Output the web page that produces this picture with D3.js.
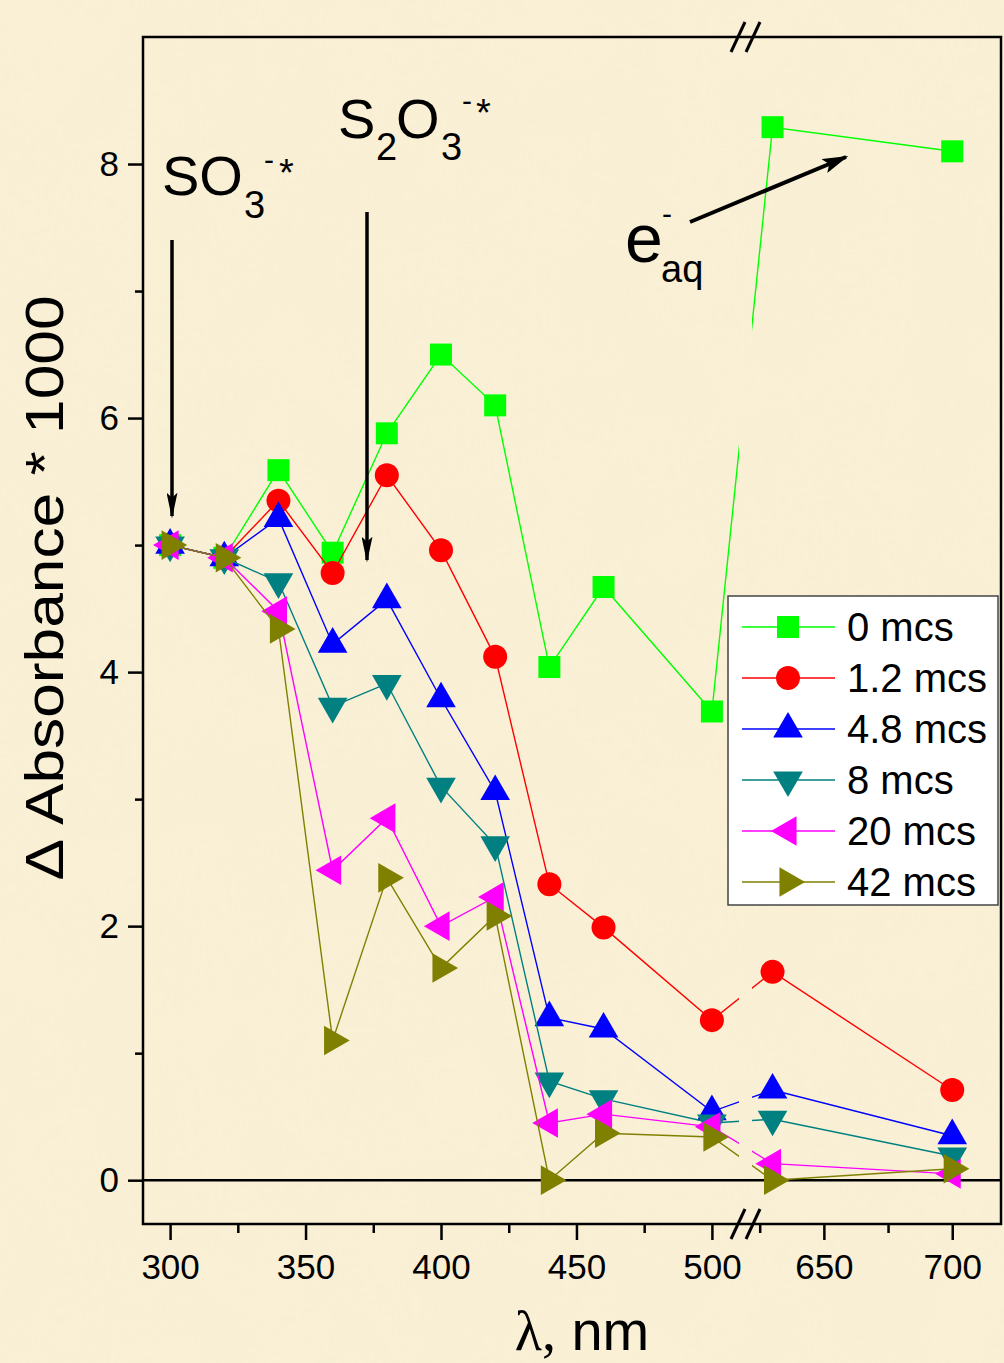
<!DOCTYPE html>
<html>
<head>
<meta charset="utf-8">
<script src="https://cdn.jsdelivr.net/npm/d3@7"></script>
<style>
  body { margin: 0; background: #f9f0d6; }
  svg { display: block; font-family: "Liberation Sans", Arial, sans-serif; }
</style>
</head>
<body>
<div id="chart"></div>
<script>
// Data
const wavelengths = [300, 320, 340, 360, 380, 400, 420, 440, 460, 500, 630, 700];
const seriesNames = ["0 mcs", "1.2 mcs", "4.8 mcs", "8 mcs", "20 mcs", "42 mcs"];
const abs0 = [5.0, 4.9, 5.59, 4.94, 5.88, 6.5, 6.1, 4.04, 4.67, 3.69, 8.29, 8.1];
const abs12 = [5.0, 4.9, 5.35, 4.78, 5.55, 4.96, 4.12, 2.33, 1.99, 1.26, 1.64, 0.71];
const abs48 = [5.0, 4.9, 5.21, 4.22, 4.57, 3.79, 3.06, 1.28, 1.19, 0.54, 0.71, 0.35];
const abs8 = [5.0, 4.9, 4.71, 3.73, 3.91, 3.1, 2.64, 0.78, 0.64, 0.45, 0.48, 0.19];
const abs20 = [5.0, 4.9, 4.48, 2.44, 2.85, 2.0, 2.23, 0.45, 0.52, 0.42, 0.13, 0.05];
const abs42 = [5.0, 4.9, 4.34, 1.1, 2.38, 1.67, 2.08, 0.0, 0.37, 0.34, 0.0, 0.09];
const xTicksLeft = [300, 350, 400, 450, 500];
const xMinorLeft = [325, 375, 425, 475];
const xTicksRight = [650, 700];
const xMinorRight = [625, 675];
const yTicks = [0, 2, 4, 6, 8];
const yMinor = [1, 3, 5, 7];

const allValues = [abs0, abs12, abs48, abs8, abs20, abs42];
const colors = ["#00ff00", "#ff0000", "#0000ff", "#008080", "#ff00ff", "#808000"];
const shapes = ["square", "circle", "up", "down", "left", "right"];

// Dimensions
const width = 1004, height = 1363;
const plot = { left: 143, right: 1001, top: 37, bottom: 1224 };
const gap = { from: 739, to: 752 };

const svg = d3.select("#chart").append("svg")
  .attr("width", width).attr("height", height);

// background with a light parchment texture
const defs = svg.append("defs");
const filt = defs.append("filter").attr("id", "paper").attr("x", 0).attr("y", 0).attr("width", "100%").attr("height", "100%");
filt.append("feTurbulence").attr("type", "fractalNoise").attr("baseFrequency", 0.012).attr("numOctaves", 3).attr("seed", 4);
filt.append("feColorMatrix").attr("type", "matrix")
  .attr("values", "0 0 0 0 0.85  0 0 0 0 0.78  0 0 0 0 0.55  0 0 0 0.35 0");
svg.append("rect").attr("width", width).attr("height", height).attr("fill", "#f9f0d6");
svg.append("rect").attr("width", width).attr("height", height).attr("filter", "url(#paper)").attr("opacity", 0.25);

// Scales (broken x axis)
const xLeft = d3.scaleLinear().domain([290, 510]).range([plot.left, gap.from]);
const xRight = d3.scaleLinear().domain([622, 719]).range([gap.to, plot.right]);
const xPos = (v) => (v <= 510 ? xLeft(v) : xRight(v));
const yScale = d3.scaleLinear().domain([-0.345, 9]).range([plot.bottom, plot.top]);

// clip lines so they vanish in the break
const clip = defs.append("clipPath").attr("id", "breakClip");
clip.append("rect").attr("x", 0).attr("y", 0).attr("width", gap.from).attr("height", height);
clip.append("rect").attr("x", gap.to).attr("y", 0).attr("width", width - gap.to).attr("height", height);

// zero line
svg.append("line")
  .attr("x1", plot.left).attr("x2", plot.right)
  .attr("y1", yScale(0)).attr("y2", yScale(0))
  .attr("stroke", "#000").attr("stroke-width", 2.5);

// Axes
function styleAxis(g) {
  g.select(".domain").remove();
  g.selectAll(".tick line").attr("stroke", "#000").attr("stroke-width", 2.5);
  g.selectAll(".tick text").attr("font-size", 35).attr("fill", "#000")
    .attr("font-family", "Liberation Sans, Arial, sans-serif");
}
svg.append("g").attr("transform", `translate(0,${plot.bottom})`)
  .call(d3.axisBottom(xLeft).tickValues(xTicksLeft).tickSize(16).tickPadding(14))
  .call(styleAxis);
svg.append("g").attr("transform", `translate(0,${plot.bottom})`)
  .call(d3.axisBottom(xLeft).tickValues(xMinorLeft).tickSize(9).tickFormat(""))
  .call(styleAxis);
svg.append("g").attr("transform", `translate(0,${plot.bottom})`)
  .call(d3.axisBottom(xRight).tickValues(xTicksRight).tickSize(16).tickPadding(14))
  .call(styleAxis);
svg.append("g").attr("transform", `translate(0,${plot.bottom})`)
  .call(d3.axisBottom(xRight).tickValues(xMinorRight).tickSize(9).tickFormat(""))
  .call(styleAxis);
svg.append("g").attr("transform", `translate(${plot.left},0)`)
  .call(d3.axisLeft(yScale).tickValues(yTicks).tickSize(15).tickPadding(9))
  .call(styleAxis);
svg.append("g").attr("transform", `translate(${plot.left},0)`)
  .call(d3.axisLeft(yScale).tickValues(yMinor).tickSize(8).tickFormat(""))
  .call(styleAxis);

// frame
svg.append("rect")
  .attr("x", plot.left).attr("y", plot.top)
  .attr("width", plot.right - plot.left).attr("height", plot.bottom - plot.top)
  .attr("fill", "none").attr("stroke", "#000").attr("stroke-width", 2.5);

// break marks on top and bottom
[plot.top, plot.bottom].forEach((yy) => {
  [gap.from - 1, gap.to + 1].forEach((xx) => {
    svg.append("line")
      .attr("x1", xx - 7).attr("y1", yy + 15)
      .attr("x2", xx + 7).attr("y2", yy - 15)
      .attr("stroke", "#000").attr("stroke-width", 3);
  });
});

// Markers
function marker(shape) {
  if (shape === "square") return { path: d3.symbol(d3.symbolSquare, 484)(), rot: 0 };
  if (shape === "circle") return { path: d3.symbol(d3.symbolCircle, 452)(), rot: 0 };
  const tri = d3.symbol(d3.symbolTriangle, 380)();
  const rot = { up: 0, down: 180, left: -90, right: 90 }[shape];
  return { path: tri, rot: rot };
}

const lineGen = d3.line()
  .x((d) => xPos(d.x))
  .y((d) => yScale(d.y));

const series = allValues.map((vals, i) => ({
  name: seriesNames[i],
  color: colors[i],
  shape: shapes[i],
  points: wavelengths.map((w, j) => ({ x: w, y: vals[j] })),
}));

series.forEach((s) => {
  const g = svg.append("g");
  g.append("path")
    .datum(s.points)
    .attr("d", lineGen)
    .attr("fill", "none")
    .attr("stroke", s.color)
    .attr("stroke-width", 1.4)
    .attr("clip-path", "url(#breakClip)");
  const m = marker(s.shape);
  g.selectAll("path.pt").data(s.points).join("path")
    .attr("class", "pt")
    .attr("d", m.path)
    .attr("transform", (d) => `translate(${xPos(d.x)},${yScale(d.y)}) rotate(${m.rot})`)
    .attr("fill", s.color);
});

// Legend
const legend = svg.append("g").attr("transform", "translate(728,596)");
legend.append("rect").attr("width", 270).attr("height", 309)
  .attr("fill", "#fff").attr("stroke", "#444").attr("stroke-width", 1.5);
series.forEach((s, i) => {
  const cy = 31 + i * 51;
  const m = marker(s.shape);
  legend.append("line").attr("x1", 14).attr("x2", 107).attr("y1", cy).attr("y2", cy)
    .attr("stroke", s.color).attr("stroke-width", 1.4);
  legend.append("path").attr("d", m.path)
    .attr("transform", `translate(60,${cy}) rotate(${m.rot})`)
    .attr("fill", s.color);
  legend.append("text").attr("x", 119).attr("y", cy + 14)
    .attr("font-size", 40).attr("fill", "#000").text(s.name);
});

// Axis titles
svg.append("text")
  .attr("transform", "translate(63,588) rotate(-90)")
  .attr("text-anchor", "middle")
  .attr("font-size", 54)
  .attr("textLength", 585).attr("lengthAdjust", "spacingAndGlyphs")
  .text("\u0394 Absorbance * 1000");

const xt = svg.append("text")
  .attr("x", 582).attr("y", 1350)
  .attr("text-anchor", "middle")
  .attr("font-size", 56);
xt.append("tspan").attr("font-family", "Liberation Serif, serif").text("\u03bb,");
xt.append("tspan").text(" nm");

// Annotations
function label(x, y, size, txt) {
  return svg.append("text").attr("x", x).attr("y", y).attr("font-size", size).attr("fill", "#000").text(txt);
}
label(162, 195, 56, "SO");
label(244, 218, 38, "3");
label(264, 170, 30, "-");
label(279, 186, 38, "*");

label(338, 138, 56, "S");
label(376, 160, 38, "2");
label(396, 138, 56, "O");
label(441, 160, 38, "3");
label(462, 111, 30, "-");
label(476, 126, 38, "*");

label(625, 262, 68, "e");
label(662, 224, 30, "-");
label(661, 282, 38, "aq");

// arrows
function addHead(id, len, wid) {
  defs.append("marker").attr("id", id)
    .attr("viewBox", "0 0 10 10").attr("refX", 9).attr("refY", 5)
    .attr("markerWidth", len).attr("markerHeight", wid)
    .attr("markerUnits", "userSpaceOnUse")
    .attr("preserveAspectRatio", "none")
    .attr("orient", "auto")
    .append("path").attr("d", "M0,0 L10,5 L0,10 L2,5 Z").attr("fill", "#000");
}
addHead("headV", 26, 11);
addHead("headD", 26, 15);

function arrow(x1, y1, x2, y2, w, head) {
  svg.append("line")
    .attr("x1", x1).attr("y1", y1).attr("x2", x2).attr("y2", y2)
    .attr("stroke", "#000").attr("stroke-width", w)
    .attr("marker-end", `url(#${head})`);
}
arrow(172, 240, 172, 516, 3.5, "headV");
arrow(367, 212, 367, 560, 3.5, "headV");
arrow(690, 222, 846, 157, 4, "headD");
</script>
</body>
</html>
